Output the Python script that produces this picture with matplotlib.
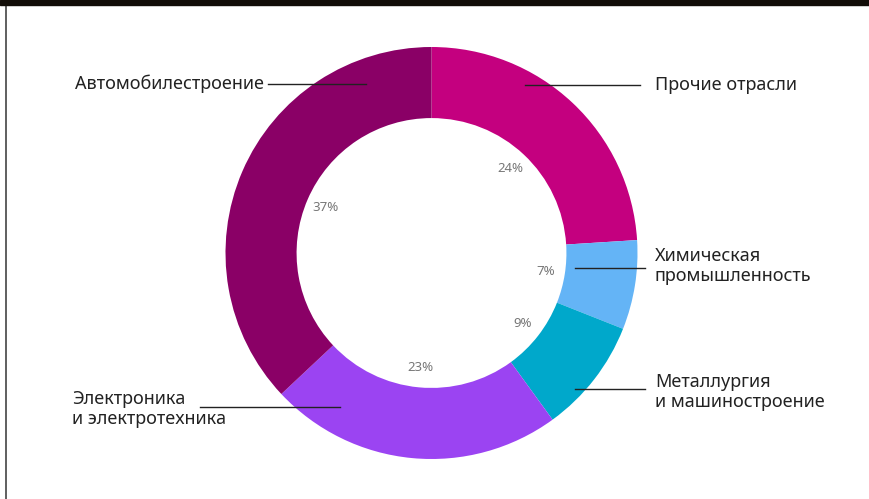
import matplotlib
matplotlib.use("Agg")
import matplotlib.pyplot as plt
from matplotlib.patches import Rectangle
from matplotlib.lines import Line2D

plt.rcParams['font.family'] = ['Noto Sans', 'DejaVu Sans']

categories = ["Прочие отрасли", "Химическая\nпромышленность", "Металлургия\nи машиностроение",
              "Электроника\nи электротехника", "Автомобилестроение"]
shares = [24, 7, 9, 23, 37]
colors = ["#C4007F", "#64B4F6", "#00A8CB", "#9B44F2", "#8A0066"]

W, H = 870, 499
fig = plt.figure(figsize=(W / 100, H / 100), dpi=100)
ax = fig.add_axes([0, 0, 1, 1])
ax.set_xlim(0, W)
ax.set_ylim(0, H)
ax.set_aspect('equal')
ax.axis('off')

cx, cy, R = 431.5, H - 253, 206
wedges, _, autotexts = ax.pie(
    shares, colors=colors, startangle=90, counterclock=False,
    center=(cx, cy), radius=R, autopct=lambda p: f"{p:.0f}%",
    pctdistance=0.56, wedgeprops=dict(width=R * 0.345, linewidth=0),
    textprops=dict(color="#777777", fontsize=9.5))
ax.set_xlim(0, W)
ax.set_ylim(0, H)

# leader lines and category labels (pixel positions, y measured from top)
leaders = [
    ((525, 640), 85, 85, 655, "left"),
    ((575, 645), 268, 266, 655, "left"),
    ((575, 645), 389, 392, 655, "left"),
    ((200, 340), 407, 409, 72, "left"),
    ((268, 366), 84, 84, 264, "right"),
]
for (x0, x1), yl, _, _, _ in leaders:
    ax.plot([x0, x1], [H - yl, H - yl], color="#222222", lw=1)
for cat, (_, _, ty, xt, ha) in zip(categories, leaders):
    ax.text(xt, H - ty, cat, ha=ha, va="center", fontsize=13, color="#222222",
            linespacing=1.2)

# frame: dark strip on top and thin rule on the left
fig.patches.append(Rectangle((0, 1 - 5 / H), 1, 5 / H, transform=fig.transFigure,
                             color="#120d08", zorder=10))
fig.lines.append(Line2D([6.5 / W, 6.5 / W], [0, 1], transform=fig.transFigure,
                        color="#444444", lw=1.2))

fig.savefig("out.png", dpi=100)
